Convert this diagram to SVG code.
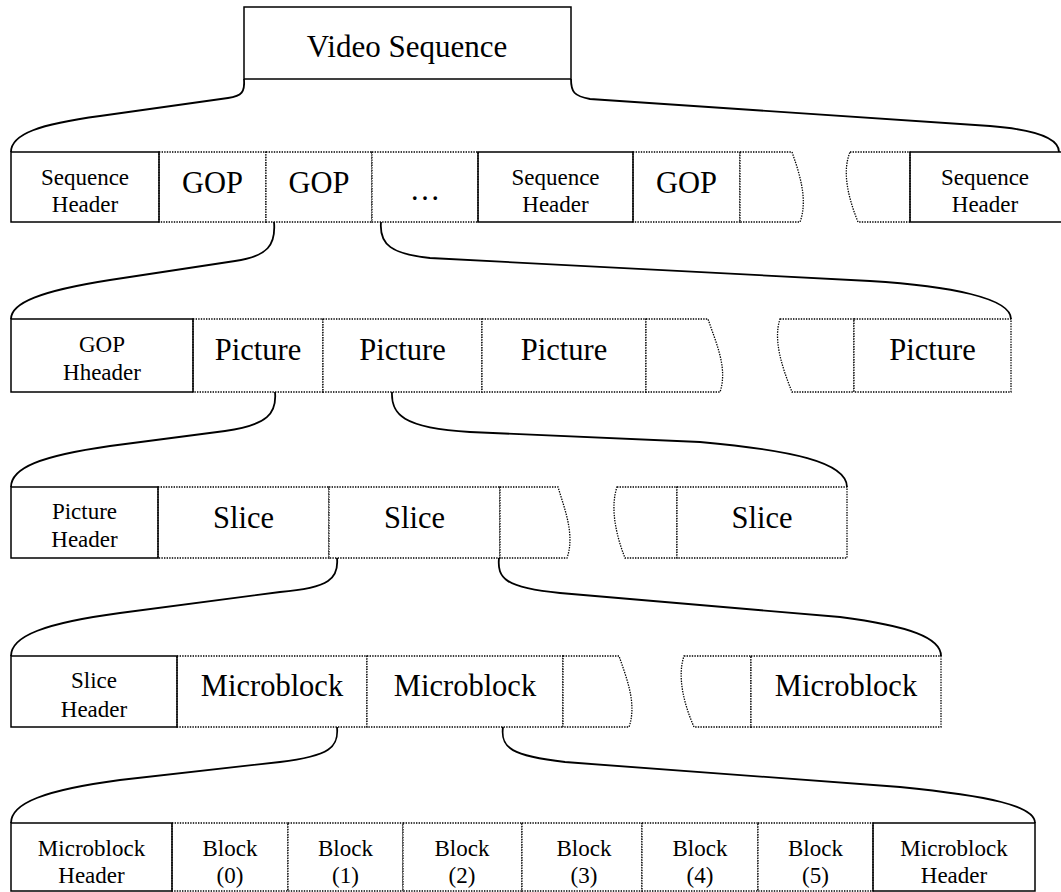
<svg xmlns="http://www.w3.org/2000/svg" width="1061" height="892" viewBox="0 0 1061 892">
  <style>
    .solid { fill: none; stroke: #000; stroke-width: 1.5; }
    .dot { fill: #fff; stroke: #000; stroke-width: 1.3; stroke-dasharray: 1.4 1.2; }
    .wire { fill: none; stroke: #000; stroke-width: 1.8; }
    text { font-family: "Liberation Serif", "Times New Roman", serif; fill: #000; text-anchor: middle; }
    .big { font-size: 30.5px; }
    .small { font-size: 23px; }
    .title { font-size: 31px; }
  </style>
  <rect width="1061" height="892" fill="#fff"/>

  <!-- top level -->
  <g id="video-sequence">
    <rect class="solid" x="244" y="7" width="327" height="72"/>
    <text class="title" x="407" y="57">Video Sequence</text>
  </g>

  <!-- sequence layer -->
  <g id="row-sequence">
    <g id="seq-gop1"><rect class="dot" x="159" y="152" width="107" height="70"/><text class="big" x="212.5" y="193">GOP</text></g>
    <g id="seq-gop2"><rect class="dot" x="266" y="152" width="106" height="70"/><text class="big" x="319" y="193">GOP</text></g>
    <g id="seq-more"><rect class="dot" x="372" y="152" width="106" height="70"/><text class="big" x="425" y="200">…</text></g>
    <g id="seq-gop3"><rect class="dot" x="633" y="152" width="107" height="70"/><text class="big" x="686.5" y="193">GOP</text></g>
    <g id="seq-open"><path class="dot" d="M740,152 L792,152 C800,175 808,200 800,222 L740,222 Z"/></g>
    <g id="seq-resume"><path class="dot" d="M850,152 L910,152 L910,222 L858,222 C848,197 842,172 850,152 Z"/></g>
    <g id="seq-header1"><rect class="solid" x="11" y="152" width="148" height="70"/><text class="small" x="85" y="185">Sequence</text><text class="small" x="85" y="211.5">Header</text></g>
    <g id="seq-header2"><rect class="solid" x="478" y="152" width="155" height="70"/><text class="small" x="555.5" y="185">Sequence</text><text class="small" x="555.5" y="211.5">Header</text></g>
    <g id="seq-header3"><rect class="solid" x="910" y="152" width="153" height="70"/><text class="small" x="985" y="185">Sequence</text><text class="small" x="985" y="211.5">Header</text></g>
  </g>

  <!-- GOP layer -->
  <g id="row-gop">
    <g id="gop-pic1"><rect class="dot" x="193" y="319" width="130" height="73"/><text class="big" x="258" y="359.5">Picture</text></g>
    <g id="gop-pic2"><rect class="dot" x="323" y="319" width="159" height="73"/><text class="big" x="402.5" y="359.5">Picture</text></g>
    <g id="gop-pic3"><rect class="dot" x="482" y="319" width="164" height="73"/><text class="big" x="564" y="359.5">Picture</text></g>
    <g id="gop-open"><path class="dot" d="M646,319 L708,319 C716,343 728,368 720,392 L646,392 Z"/></g>
    <g id="gop-resume"><path class="dot" d="M780,319 L854,319 L854,392 L792,392 C782,367 773,340 780,319 Z"/></g>
    <g id="gop-pic4"><rect class="dot" x="854" y="319" width="157" height="73"/><text class="big" x="932.5" y="359.5">Picture</text></g>
    <g id="gop-header"><rect class="solid" x="11" y="319" width="182" height="73"/><text class="small" x="102" y="351.5">GOP</text><text class="small" x="102" y="380">Hheader</text></g>
  </g>

  <!-- picture layer -->
  <g id="row-picture">
    <g id="pic-slice1"><rect class="dot" x="158" y="487" width="171" height="71"/><text class="big" x="243.5" y="528">Slice</text></g>
    <g id="pic-slice2"><rect class="dot" x="329" y="487" width="171" height="71"/><text class="big" x="414.5" y="528">Slice</text></g>
    <g id="pic-open"><path class="dot" d="M500,487 L558,487 C565,510 575,535 567,558 L500,558 Z"/></g>
    <g id="pic-resume"><path class="dot" d="M617,487 L677,487 L677,558 L625,558 C616,535 610,508 617,487 Z"/></g>
    <g id="pic-slice3"><rect class="dot" x="677" y="487" width="170" height="71"/><text class="big" x="762" y="528">Slice</text></g>
    <g id="pic-header"><rect class="solid" x="11" y="487" width="147" height="71"/><text class="small" x="84.5" y="519">Picture</text><text class="small" x="84.5" y="547">Header</text></g>
  </g>

  <!-- slice layer -->
  <g id="row-slice">
    <g id="slice-mb1"><rect class="dot" x="177" y="656" width="190" height="71"/><text class="big" x="272" y="696">Microblock</text></g>
    <g id="slice-mb2"><rect class="dot" x="367" y="656" width="196" height="71"/><text class="big" x="465" y="696">Microblock</text></g>
    <g id="slice-open"><path class="dot" d="M563,656 L619,656 C627,679 637,704 629,727 L563,727 Z"/></g>
    <g id="slice-resume"><path class="dot" d="M684,656 L751,656 L751,727 L694,727 C684,704 677,677 684,656 Z"/></g>
    <g id="slice-mb3"><rect class="dot" x="751" y="656" width="190" height="71"/><text class="big" x="846" y="696">Microblock</text></g>
    <g id="slice-header"><rect class="solid" x="11" y="656" width="166" height="71"/><text class="small" x="94" y="688">Slice</text><text class="small" x="94" y="717">Header</text></g>
  </g>

  <!-- microblock layer -->
  <g id="row-microblock">
    <g id="mb-block0"><rect class="dot" x="172" y="823" width="116" height="68"/><text class="small" x="230" y="856">Block</text><text class="small" x="230" y="883">(0)</text></g>
    <g id="mb-block1"><rect class="dot" x="288" y="823" width="115" height="68"/><text class="small" x="345.5" y="856">Block</text><text class="small" x="345.5" y="883">(1)</text></g>
    <g id="mb-block2"><rect class="dot" x="403" y="823" width="119" height="68"/><text class="small" x="462" y="856">Block</text><text class="small" x="462" y="883">(2)</text></g>
    <g id="mb-block3"><rect class="dot" x="522" y="823" width="120" height="68"/><text class="small" x="584" y="856">Block</text><text class="small" x="584" y="883">(3)</text></g>
    <g id="mb-block4"><rect class="dot" x="642" y="823" width="116" height="68"/><text class="small" x="700" y="856">Block</text><text class="small" x="700" y="883">(4)</text></g>
    <g id="mb-block5"><rect class="dot" x="758" y="823" width="115" height="68"/><text class="small" x="815.5" y="856">Block</text><text class="small" x="815.5" y="883">(5)</text></g>
    <g id="mb-header1"><rect class="solid" x="11" y="823" width="161" height="68"/><text class="small" x="91.5" y="856">Microblock</text><text class="small" x="91.5" y="883">Header</text></g>
    <g id="mb-header2"><rect class="solid" x="873" y="823" width="162" height="68"/><text class="small" x="954" y="856">Microblock</text><text class="small" x="954" y="883">Header</text></g>
  </g>

  <!-- brace-like expansion curves between layers -->
  <g id="connectors">
    <path class="wire" d="M244,79 C245,92 242,96 228,98 L100,116 C40,124 11,134 11,152"/>
    <path class="wire" d="M571,79 C571,92 574,96 590,99 L990,126 C1040,130 1059,140 1059,152"/>

    <path class="wire" d="M274,222 C276,245 268,256 235,261 L110,280 C40,291 11,303 11,319"/>
    <path class="wire" d="M381,222 C379,245 392,254 430,258 L870,281 C950,286 1011,298 1011,319"/>

    <path class="wire" d="M275,392 C277,413 268,425 225,431 L110,446 C40,456 11,468 11,487"/>
    <path class="wire" d="M392,392 C391,414 402,428 470,432 L700,442 C790,450 847,462 847,487"/>

    <path class="wire" d="M337,558 C339,578 330,588 280,592 L120,613 C45,623 11,636 11,656"/>
    <path class="wire" d="M499,558 C497,578 505,588 560,593 L840,617 C910,626 941,638 941,656"/>

    <path class="wire" d="M337,727 C339,747 330,756 280,762 L120,780 C45,790 11,803 11,823"/>
    <path class="wire" d="M503,727 C500,748 512,756 565,762 L900,787 C990,796 1035,806 1035,823"/>
  </g>
</svg>
